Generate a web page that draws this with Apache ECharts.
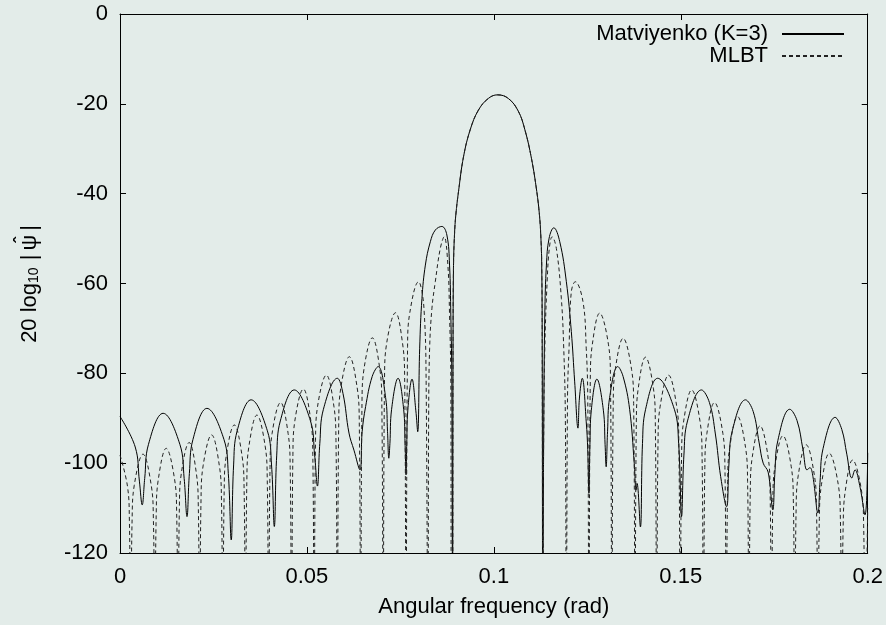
<!DOCTYPE html>
<html>
<head>
<meta charset="utf-8">
<script src="https://cdn.jsdelivr.net/npm/echarts@6/dist/echarts.min.js"></script>
<style>
html,body{margin:0;padding:0;background:#e3ece9;}
#chart{width:886px;height:625px;}
</style>
</head>
<body>
<div id="chart"></div>
<script>
// ---- axis ----
const xTicks = [0, 0.05, 0.1, 0.15, 0.2];
const yTicks = [-120, -100, -80, -60, -40, -20, 0];

// ---- main lobe (shared by both curves) ----
const mainLobeFreq = [0.08895, 0.08908, 0.08921, 0.08948, 0.08983, 0.09055, 0.09188, 0.09366, 0.09587, 0.09853, 0.10101,
  0.10386, 0.10652, 0.10831, 0.11007, 0.11148, 0.11219, 0.11254, 0.11281, 0.11294, 0.11308];
const mainLobeDb = [-140, -75, -56, -49, -44.7, -39.5, -31.8, -25.8, -21.4, -18.8, -18.0,
  -18.8, -21.6, -25.8, -32.2, -39.5, -44.7, -49, -56, -75, -140];

// ---- MLBT (dashed), left of main lobe ----
const mlbtLeftFreq = [
  0, 0.00199, 0.00251, 0.00285,
  0.00324, 0.00382, 0.00615, 0.00835, 0.00893, 0.00932,
  0.00969, 0.01025, 0.01235, 0.01460, 0.01516, 0.01553,
  0.01588, 0.01640, 0.01850, 0.02043, 0.02095, 0.02130,
  0.02167, 0.02223, 0.02450, 0.02658, 0.02714, 0.02751,
  0.02787, 0.02842, 0.03058, 0.03265, 0.03320, 0.03356,
  0.03393, 0.03449, 0.03662, 0.03883, 0.03939, 0.03976,
  0.04013, 0.04068, 0.04295, 0.04497, 0.04552, 0.04589,
  0.04625, 0.04680, 0.04905, 0.05102, 0.05157, 0.05193,
  0.05230, 0.05286, 0.05520, 0.05721, 0.05777, 0.05814,
  0.05851, 0.05907, 0.06135, 0.06344, 0.06400, 0.06437,
  0.06473, 0.06527, 0.06750, 0.06949, 0.07003, 0.07039,
  0.07076, 0.07131, 0.07370, 0.07559, 0.07614, 0.07651,
  0.07692, 0.07752, 0.07989, 0.08077, 0.08141, 0.08184, 0.08237,
  0.08256, 0.08282, 0.08344, 0.08434, 0.08567, 0.08670, 0.08770, 0.08815, 0.08849, 0.08863
];
const mlbtLeftDb = [
  -98.2, -105.1, -112.7, -140,
  -112.5, -104.9, -98.0, -104.9, -112.5, -140,
  -111.2, -103.6, -96.7, -103.6, -111.2, -140,
  -109.9, -102.3, -95.4, -102.3, -109.9, -140,
  -108.2, -100.6, -93.7, -100.6, -108.2, -140,
  -106.0, -98.4, -91.5, -98.4, -106.0, -140,
  -103.8, -96.2, -89.3, -96.2, -103.8, -140,
  -101.0, -93.4, -86.5, -93.4, -101.0, -140,
  -98.0, -90.4, -83.5, -90.4, -98.0, -140,
  -94.9, -87.3, -80.4, -87.3, -94.9, -140,
  -90.8, -83.2, -76.3, -83.2, -90.8, -140,
  -86.6, -79.0, -72.1, -79.0, -86.6, -140,
  -81.0, -73.4, -66.5, -73.4, -81.0, -140,
  -74.1, -66.5, -59.6, -61.8, -67.0, -78.1, -140,
  -89.3, -74.4, -65.5, -59.6, -52.2, -49.6, -55.9, -67.0, -81.9, -140
];

// ---- MLBT (dashed), right of main lobe ----
const mlbtRightFreq = [
  0.11332, 0.11363, 0.11425, 0.11486, 0.11558, 0.11672, 0.11805, 0.11869, 0.11912, 0.11939,
  0.11971, 0.12011, 0.12072, 0.12178, 0.12383, 0.12471, 0.12511, 0.12543,
  0.12580, 0.12635, 0.12830, 0.13064, 0.13119, 0.13156,
  0.13193, 0.13249, 0.13458, 0.13683, 0.13739, 0.13776,
  0.13811, 0.13863, 0.14055, 0.14267, 0.14319, 0.14354,
  0.14392, 0.14449, 0.14672, 0.14890, 0.14947, 0.14985,
  0.15022, 0.15078, 0.15291, 0.15513, 0.15569, 0.15606,
  0.15643, 0.15698, 0.15902, 0.16126, 0.16181, 0.16218,
  0.16254, 0.16309, 0.16516, 0.16732, 0.16787, 0.16823,
  0.16859, 0.16913, 0.17120, 0.17335, 0.17389, 0.17425,
  0.17462, 0.17518, 0.17732, 0.17955, 0.18011, 0.18048,
  0.18085, 0.18141, 0.18353, 0.18575, 0.18631, 0.18668,
  0.18706, 0.18764, 0.18970, 0.19211, 0.19269, 0.19307,
  0.19344, 0.19400, 0.19595, 0.19835, 0.19891, 0.19928,
  0.2
];
const mlbtRightDb = [
  -95, -74.4, -59.6, -52.0, -49.6, -52.2, -63.3, -74.4, -89.3, -140,
  -85, -74.4, -61.8, -59.6, -64.0, -74.4, -85, -140,
  -81.1, -73.5, -66.6, -73.5, -81.1, -140,
  -86.7, -79.1, -72.2, -79.1, -86.7, -140,
  -90.9, -83.3, -76.4, -83.3, -90.9, -140,
  -94.9, -87.3, -80.4, -87.3, -94.9, -140,
  -98.2, -90.6, -83.7, -90.6, -98.2, -140,
  -101.0, -93.4, -86.5, -93.4, -101.0, -140,
  -104.1, -96.5, -89.6, -96.5, -104.1, -140,
  -106.2, -98.6, -91.7, -98.6, -106.2, -140,
  -108.4, -100.8, -93.9, -100.8, -108.4, -140,
  -110.4, -102.8, -95.9, -102.8, -110.4, -140,
  -112.3, -104.7, -97.8, -104.7, -112.3, -140,
  -113.8, -106.2, -99.3, -106.2, -113.8, -140,
  -110
];

// ---- Matviyenko K=3 (solid), left of main lobe ----
const matvLeftFreq = [
  0, 0.00407, 0.00519, 0.00594,
  0.00661, 0.00762, 0.01153, 0.01601, 0.01716, 0.01792,
  0.01856, 0.01952, 0.02325, 0.02780, 0.02897, 0.02975,
  0.03039, 0.03134, 0.03507, 0.03942, 0.04053, 0.04128,
  0.04192, 0.04288, 0.04660, 0.05095, 0.05206, 0.05281,
  0.05345, 0.05441, 0.05814, 0.05965, 0.06125, 0.06258, 0.06418,
  0.06477, 0.06570, 0.06746, 0.06905, 0.07105, 0.07156, 0.07190,
  0.07220, 0.07265, 0.07438, 0.07587, 0.07625, 0.07651,
  0.07670, 0.07699, 0.07811, 0.07912, 0.07963,
  0.08016, 0.08077, 0.08168, 0.08301, 0.08434, 0.08610, 0.08743, 0.08815, 0.08849, 0.08876
];
const matvLeftDb = [
  -89.6, -96.4, -104.0, -109.3,
  -103.4, -95.8, -88.9, -95.8, -103.4, -111.9,
  -102.3, -94.7, -87.8, -94.7, -102.3, -117.1,
  -100.4, -92.8, -85.9, -92.8, -100.4, -114.1,
  -98.2, -90.6, -83.7, -90.6, -98.2, -105.1,
  -95.6, -88.0, -81.1, -84.5, -93.3, -97.1, -101.5,
  -93.0, -87.4, -80.7, -78.5, -85.4, -93.0, -98.9,
  -95.6, -88.0, -81.1, -88.0, -95.6, -102.6,
  -95.8, -88.2, -81.3, -88.2, -93.0,
  -74.4, -63.3, -55.9, -50.7, -48.1, -47.3, -49.2, -55.9, -67.0, -81.9
];

// ---- Matviyenko K=3 (solid), right of main lobe ----
const matvRightFreq = [
  0.11332, 0.11363, 0.11406, 0.11478, 0.11603, 0.11763, 0.11939, 0.12072, 0.12162, 0.12250,
  0.12289, 0.12365, 0.12471, 0.12511, 0.12543,
  0.12570, 0.12607, 0.12756, 0.12929, 0.12975, 0.13004,
  0.13041, 0.13097, 0.13316, 0.13457, 0.13632, 0.13755, 0.13803, 0.13830, 0.13920,
  0.13976, 0.14059, 0.14381, 0.14828, 0.14943, 0.15020,
  0.15084, 0.15180, 0.15553, 0.15766, 0.15925, 0.16067, 0.16226,
  0.16287, 0.16378, 0.16732, 0.16937, 0.17097, 0.17204, 0.17337, 0.17462,
  0.17515, 0.17598, 0.17915, 0.18109, 0.18269, 0.18375, 0.18455, 0.18535, 0.18668,
  0.18724, 0.18807, 0.19129, 0.19307, 0.19441, 0.19574, 0.19661, 0.19787, 0.19928,
  0.2
];
const matvRightDb = [
  -95, -67.0, -55.9, -49.9, -47.6, -50.7, -59.6, -70.7, -81.9, -92.2,
  -85.5, -81.1, -90.8, -97, -106.7,
  -95.8, -88.2, -81.3, -88.2, -95.8, -100.8,
  -93.0, -85.4, -78.5, -80.7, -88.0, -100, -106, -104.5, -114.2,
  -95.6, -88.0, -81.1, -88.0, -95.6, -111.9,
  -98.2, -90.6, -83.7, -86.5, -93.5, -103.0, -109.7,
  -100.4, -92.8, -85.9, -88.5, -95.5, -100, -102.0, -110.4,
  -102.5, -94.9, -88.0, -90.5, -97, -101.5, -101, -103, -111.1,
  -104.3, -96.7, -89.8, -92.5, -98, -103.3, -101.5, -105, -111.5,
  -97.7
];

function pairs(fs, ds) { return fs.map((f, i) => [f, ds[i]]); }
const matvData = pairs(matvLeftFreq.concat(mainLobeFreq, matvRightFreq),
                       matvLeftDb.concat(mainLobeDb, matvRightDb));
const mlbtData = pairs(mlbtLeftFreq.concat(mainLobeFreq, mlbtRightFreq),
                       mlbtLeftDb.concat(mainLobeDb, mlbtRightDb));

const FONT = '"Liberation Sans", Arial, Helvetica, sans-serif';
const FS = 22;

const chart = echarts.init(document.getElementById('chart'), null, {renderer: 'canvas'});
const tickCommon = {show: true, inside: true, length: 6, lineStyle: {color: '#000', width: 1}};
const lineCommon = {show: true, onZero: false, lineStyle: {color: '#000', width: 1}};

chart.setOption({
  backgroundColor: '#e3ece9',
  animation: false,
  grid: {left: 120, right: 15, top: 14, bottom: 72, containLabel: false},
  legend: {
    orient: 'vertical', right: 41, top: 23, align: 'right', padding: 0,
    itemWidth: 62, itemHeight: 14, itemGap: 0,
    itemStyle: {opacity: 0},
    textStyle: {fontSize: FS, lineHeight: 20, color: '#000', fontFamily: FONT, padding: [0, 9, 0, 0]},
    data: ['Matviyenko (K=3)', 'MLBT']
  },
  xAxis: [{
    type: 'value', min: xTicks[0], max: xTicks[xTicks.length - 1], interval: 0.05,
    position: 'bottom',
    axisLine: lineCommon, axisTick: tickCommon, splitLine: {show: false},
    axisLabel: {fontSize: FS, color: '#000', fontFamily: FONT, margin: 13,
      formatter: v => String(+v.toFixed(2))},
    name: 'Angular frequency (rad)', nameLocation: 'middle', nameGap: 43,
    nameTextStyle: {fontSize: FS, color: '#000', fontFamily: FONT}
  }, {
    type: 'value', min: xTicks[0], max: xTicks[xTicks.length - 1], interval: 0.05,
    position: 'top',
    axisLine: lineCommon, axisTick: tickCommon, splitLine: {show: false},
    axisLabel: {show: false}
  }],
  yAxis: [{
    type: 'value', min: yTicks[0], max: yTicks[yTicks.length - 1], interval: 20,
    position: 'left',
    axisLine: lineCommon, axisTick: tickCommon, splitLine: {show: false},
    axisLabel: {fontSize: FS, color: '#000', fontFamily: FONT, margin: 12},
    name: '20 log{sub|10} {bar||}{psi|ψ}{bar||}', nameLocation: 'middle', nameGap: 79,
    nameTextStyle: {fontSize: 22, color: '#000', fontFamily: FONT,
      rich: {
        sub: {fontSize: 14, fontFamily: FONT, color: '#000', verticalAlign: 'bottom', padding: [8, 0, 0, 0]},
        bar: {fontSize: 22, fontFamily: FONT, color: '#000', padding: [0, 1, 0, 1]},
        psi: {fontSize: 22, fontFamily: FONT, color: '#000', padding: [0, 3, 0, 3]}
      }}
  }, {
    type: 'value', min: yTicks[0], max: yTicks[yTicks.length - 1], interval: 20,
    position: 'right',
    axisLine: lineCommon, axisTick: tickCommon, splitLine: {show: false},
    axisLabel: {show: false}
  }],
  graphic: [{
    type: 'text', x: 22, y: 240, rotation: Math.PI / 2,
    style: {text: 'ˆ', font: 'bold 18px ' + FONT, fill: '#000', align: 'center', verticalAlign: 'middle'}
  }],
  series: [{
    name: 'Matviyenko (K=3)', type: 'line', data: matvData,
    symbol: 'none', showSymbol: false, smooth: 0.4, clip: true,
    lineStyle: {color: '#000', width: 1}, itemStyle: {color: '#000'}
  }, {
    name: 'MLBT', type: 'line', data: mlbtData,
    symbol: 'none', showSymbol: false, smooth: 0.4, clip: true,
    lineStyle: {color: '#222', width: 1, type: [4, 3]}, itemStyle: {color: '#222'}
  }]
});
</script>
</body>
</html>
